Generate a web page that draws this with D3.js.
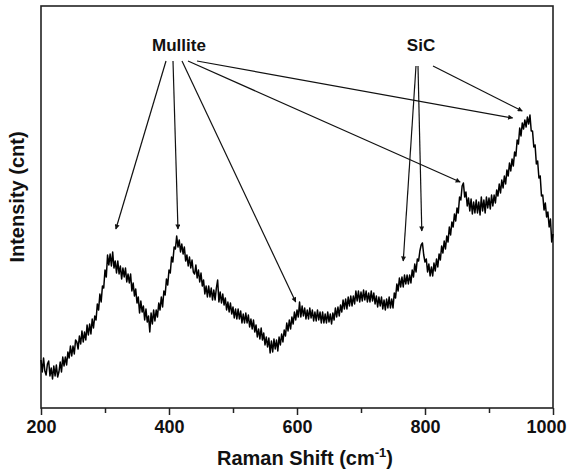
<!DOCTYPE html>
<html>
<head>
<meta charset="utf-8">
<script src="https://cdn.jsdelivr.net/npm/d3@7"></script>
<style>
  body { margin: 0; background: #fff; }
  svg { display: block; font-family: "Liberation Sans", Arial, sans-serif; }
</style>
</head>
<body>
<script>
// raman shift grid, 200 to 1000 every 2 cm-1
var shift = d3.range(200, 1001, 2);

// intensity (arbitrary counts)
var intensity = [
  48, 36, 50, 37, 33, 44, 47, 32, 40, 29, 42, 32, 43, 31, 36, 46, 36, 51, 42, 51,
  43, 56, 50, 62, 52, 62, 54, 68, 66, 59, 72, 64, 77, 66, 76, 68, 83, 73, 84, 74,
  89, 80, 92, 88, 104, 98, 114, 106, 122, 120, 138, 131, 153, 143, 154, 142, 156, 140, 147, 135,
  147, 134, 142, 129, 140, 131, 140, 126, 134, 125, 134, 117, 125, 112, 119, 105, 111, 95, 107, 96,
  102, 88, 99, 86, 92, 76, 95, 84, 98, 87, 98, 91, 105, 98, 111, 101, 117, 113, 129, 123,
  138, 135, 151, 146, 161, 159, 172, 161, 168, 156, 164, 154, 161, 147, 153, 142, 151, 140, 148, 136,
  134, 143, 130, 138, 126, 135, 122, 128, 114, 122, 111, 122, 111, 120, 108, 118, 108, 120, 128, 106,
  116, 105, 114, 103, 110, 98, 106, 96, 105, 94, 101, 90, 99, 89, 99, 89, 97, 85, 94, 85,
  95, 85, 93, 81, 89, 79, 88, 76, 83, 71, 79, 69, 80, 68, 75, 63, 71, 61, 70, 55,
  67, 56, 69, 59, 68, 57, 71, 63, 74, 66, 78, 72, 85, 77, 88, 79, 91, 84, 96, 88,
  98, 91, 106, 91, 102, 92, 100, 89, 98, 89, 100, 90, 98, 87, 96, 87, 98, 88, 96, 85,
  96, 85, 94, 85, 96, 86, 94, 84, 95, 88, 100, 91, 101, 92, 103, 96, 108, 99, 109, 99,
  111, 102, 112, 102, 112, 104, 117, 107, 117, 106, 116, 107, 118, 108, 117, 106, 115, 106, 117, 107,
  115, 104, 112, 101, 111, 102, 111, 99, 108, 98, 109, 100, 111, 100, 109, 100, 115, 110, 124, 117,
  130, 121, 131, 121, 133, 124, 133, 124, 133, 125, 138, 131, 144, 136, 149, 147, 157, 163, 165, 153,
  146, 149, 136, 144, 132, 141, 132, 145, 137, 149, 141, 154, 148, 162, 155, 167, 159, 172, 166, 181,
  173, 186, 181, 194, 187, 200, 195, 211, 208, 222, 225, 211, 216, 202, 210, 197, 209, 194, 206, 195,
  208, 195, 206, 193, 211, 197, 208, 195, 211, 200, 210, 199, 213, 202, 213, 205, 218, 212, 224, 215,
  228, 220, 232, 224, 238, 232, 245, 237, 249, 242, 256, 252, 268, 264, 280, 272, 285, 279, 288, 281,
  291, 284, 293, 277, 277, 261, 263, 244, 247, 230, 232, 212, 213, 198, 205, 191, 196, 181, 189, 166,
  174
];

var xTicks = [200, 400, 600, 800, 1000];
var xMinor = [300, 500, 700, 900];

// annotation arrows: label, then tips in data units
var labels = ["Mullite", "SiC"];
var labelX = [179, 421];
var mulliteTipX = [317, 414, 598, 855, 937];
var mulliteTipY = [179, 179, 106, 226, 290];
var mulliteFromX = [166, 173, 182, 188, 197];
var sicTipX = [766, 795, 952];
var sicTipY = [147, 177, 297];
var sicFromX = [416, 418, 433];

var w = 570, h = 470;
var padL = 41, padR = 553, padT = 6, padB = 408;

var svg = d3.select("body").append("svg")
    .attr("width", w)
    .attr("height", h);

var x = d3.scaleLinear().domain([200, 1000]).range([padL, padR]);
var y = d3.scaleLinear().domain([0, 402]).range([padB, padT]);

// frame
svg.append("rect")
    .attr("x", padL)
    .attr("y", padT)
    .attr("width", padR - padL)
    .attr("height", padB - padT)
    .attr("fill", "none")
    .attr("stroke", "#222")
    .attr("stroke-width", 1.6);

// bottom axis with major and minor ticks
var axis = svg.append("g")
    .attr("transform", "translate(0," + padB + ")")
    .call(d3.axisBottom(x).tickValues(xTicks).tickSize(7).tickPadding(5).tickFormat(d3.format("d")));
axis.select(".domain").remove();
axis.selectAll("line").attr("stroke", "#222").attr("stroke-width", 1.5);
axis.selectAll("text")
    .attr("font-size", "18px")
    .attr("font-weight", "bold")
    .attr("fill", "#111")
    .attr("font-family", "Liberation Sans, Arial, sans-serif")
    .attr("dx", function(d) { return d === 1000 ? -7 : 0; });

svg.append("g")
    .attr("transform", "translate(0," + padB + ")")
    .call(d3.axisBottom(x).tickValues(xMinor).tickSize(5).tickFormat(""))
    .call(function(g) { g.select(".domain").remove(); })
    .selectAll("line").attr("stroke", "#222").attr("stroke-width", 1.5);

// axis titles
var xt = svg.append("text")
    .attr("x", 305)
    .attr("y", 465)
    .attr("text-anchor", "middle")
    .attr("font-size", "20px")
    .attr("font-weight", "bold")
    .attr("fill", "#111");
xt.append("tspan").text("Raman Shift (cm");
xt.append("tspan").attr("dy", -8).attr("font-size", "13px").text("-1");
xt.append("tspan").attr("dy", 8).text(")");

svg.append("text")
    .attr("transform", "translate(24,197) rotate(-90)")
    .attr("text-anchor", "middle")
    .attr("font-size", "20px")
    .attr("font-weight", "bold")
    .attr("fill", "#111")
    .text("Intensity (cnt)");

// spectrum
var line = d3.line()
    .x(function(d, i) { return x(shift[i]); })
    .y(function(d) { return y(d); });

svg.append("path")
    .datum(intensity)
    .attr("d", line)
    .attr("fill", "none")
    .attr("stroke", "#000")
    .attr("stroke-width", 1.5)
    .attr("stroke-linejoin", "round");

// arrows
svg.append("defs").append("marker")
    .attr("id", "head")
    .attr("viewBox", "0 0 10 10")
    .attr("refX", 9)
    .attr("refY", 5)
    .attr("markerWidth", 7)
    .attr("markerHeight", 5)
    .attr("markerUnits", "userSpaceOnUse")
    .attr("orient", "auto")
    .append("path")
    .attr("d", "M0,0L10,5L0,10z")
    .attr("fill", "#111");

function arrows(fromX, fromY, tipX, tipY) {
    svg.append("g").selectAll("line")
        .data(tipX)
        .enter()
        .append("line")
        .attr("x1", function(d, i) { return fromX[i]; })
        .attr("y1", fromY)
        .attr("x2", function(d) { return x(d); })
        .attr("y2", function(d, i) { return y(tipY[i]); })
        .attr("stroke", "#111")
        .attr("stroke-width", 1.2)
        .attr("marker-end", "url(#head)");
}
arrows(mulliteFromX, 61, mulliteTipX, mulliteTipY);
arrows(sicFromX, 66, sicTipX, sicTipY);

svg.selectAll(".lab")
    .data(labels)
    .enter()
    .append("text")
    .attr("class", "lab")
    .attr("x", function(d, i) { return labelX[i]; })
    .attr("y", 51)
    .attr("text-anchor", "middle")
    .attr("font-size", "17px")
    .attr("font-weight", "bold")
    .attr("fill", "#111")
    .text(function(d) { return d; });
</script>
</body>
</html>
